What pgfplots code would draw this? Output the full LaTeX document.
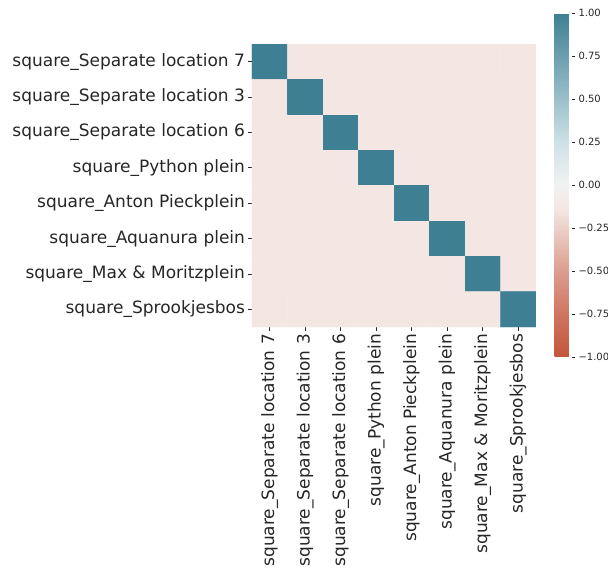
\documentclass[border=0pt]{standalone}
\usepackage{pgfplots}
\pgfplotsset{compat=1.18}
\usepackage{fontspec}
\setmainfont{DejaVu Sans}
\definecolor{txt}{HTML}{262626}
\begin{document}
\begin{tikzpicture}[x=1pt,y=1pt]
\begin{axis}[
  at={(252pt,243pt)}, anchor=south west,
  scale only axis, width=284pt, height=283pt,
  xmin=-0.5, xmax=7.5, ymin=-0.5, ymax=7.5, y dir=reverse,
  axis line style={draw=none},
  xtick={0,...,7}, ytick={0,...,7},
  xticklabels={square\_Separate location 7,square\_Separate location 3,square\_Separate location 6,square\_Python plein,square\_Anton Pieckplein,square\_Aquanura plein,square\_Max \& Moritzplein,square\_Sprookjesbos},
  yticklabels={square\_Separate location 7,square\_Separate location 3,square\_Separate location 6,square\_Python plein,square\_Anton Pieckplein,square\_Aquanura plein,square\_Max \& Moritzplein,square\_Sprookjesbos},
  tick align=outside, xtick pos=bottom, ytick pos=left,
  major tick length=3.5pt,
  tick style={txt, line width=0.8pt},
  ticklabel style={font=\fontsize{17}{20}\selectfont, text=txt},
  xticklabel style={rotate=90, anchor=east},
  colormap={div}{rgb255(0)=(195,85,58); rgb255(250)=(207,117,96); rgb255(500)=(220,158,143); rgb255(750)=(236,208,201); rgb255(857)=(244,230,226); rgb255(1000)=(242,242,242); rgb255(1250)=(205,225,231); rgb255(1500)=(155,192,203); rgb255(1750)=(107,159,174); rgb255(2000)=(63,127,147)},
  point meta min=-1, point meta max=1,
  colorbar,
  colorbar style={
    at={(parent axis.north east)}, anchor=north west,
    xshift=10pt, yshift=31pt,
    scale only axis, width=17pt, height=344pt,
    axis line style={draw=none},
    ytick={-1,-0.75,-0.5,-0.25,0,0.25,0.5,0.75,1},
    yticklabels={−1.00,−0.75,−0.50,−0.25,0.00,0.25,0.50,0.75,1.00},
    yticklabel style={font=\fontsize{10}{12}\selectfont, text=txt},
    tick align=outside, major tick length=3.5pt,
    tick style={txt, line width=0.8pt},
    ytick pos=right,
  },
]
\addplot[matrix plot*, mesh/cols=8, point meta=explicit] table[meta=c] {
x y c
0 0 1
1 0 -0.143
2 0 -0.143
3 0 -0.143
4 0 -0.143
5 0 -0.143
6 0 -0.143
7 0 -0.143
0 1 -0.143
1 1 1
2 1 -0.143
3 1 -0.143
4 1 -0.143
5 1 -0.143
6 1 -0.143
7 1 -0.143
0 2 -0.143
1 2 -0.143
2 2 1
3 2 -0.143
4 2 -0.143
5 2 -0.143
6 2 -0.143
7 2 -0.143
0 3 -0.143
1 3 -0.143
2 3 -0.143
3 3 1
4 3 -0.143
5 3 -0.143
6 3 -0.143
7 3 -0.143
0 4 -0.143
1 4 -0.143
2 4 -0.143
3 4 -0.143
4 4 1
5 4 -0.143
6 4 -0.143
7 4 -0.143
0 5 -0.143
1 5 -0.143
2 5 -0.143
3 5 -0.143
4 5 -0.143
5 5 1
6 5 -0.143
7 5 -0.143
0 6 -0.143
1 6 -0.143
2 6 -0.143
3 6 -0.143
4 6 -0.143
5 6 -0.143
6 6 1
7 6 -0.143
0 7 -0.143
1 7 -0.143
2 7 -0.143
3 7 -0.143
4 7 -0.143
5 7 -0.143
6 7 -0.143
7 7 1
};
\end{axis}
\pgfresetboundingbox
\path[use as bounding box] (0,0) rectangle (608,570);
\end{tikzpicture}
\end{document}
